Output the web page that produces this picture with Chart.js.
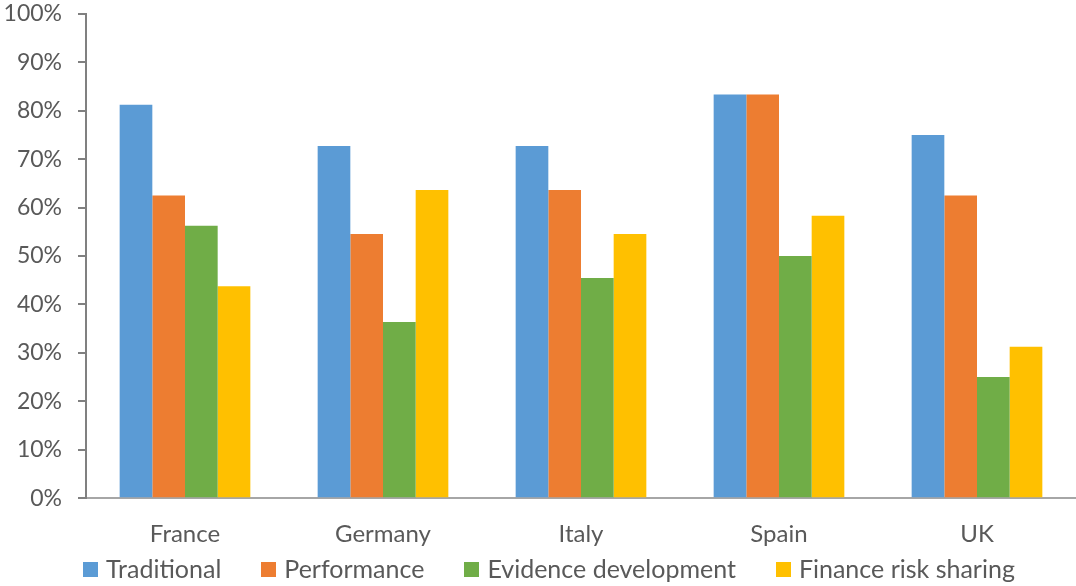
<!DOCTYPE html>
<html>
<head>
<meta charset="utf-8">
<script src="https://cdn.jsdelivr.net/npm/chart.js@4"></script>
<style>
  html, body { margin: 0; padding: 0; background: #ffffff; overflow: hidden; width: 1076px; height: 586px; }
  #wrap { width: 1076px; height: 602px; position: absolute; left: 0; top: -16px; }
</style>
</head>
<body>
<div id="wrap"><canvas id="c"></canvas></div>
<script>
const categories = ["France", "Germany", "Italy", "Spain", "UK"];
const seriesNames = ["Traditional", "Performance", "Evidence development", "Finance risk sharing"];
const traditional = [81.25, 72.73, 72.73, 83.33, 75.0];
const performance = [62.5, 54.55, 63.64, 83.33, 62.5];
const evidence = [56.25, 36.36, 45.45, 50.0, 25.0];
const finance = [43.75, 63.64, 54.55, 58.33, 31.25];
const yTicks = [0, 10, 20, 30, 40, 50, 60, 70, 80, 90, 100];

const colors = ["#5b9bd5", "#ed7d31", "#70ad47", "#ffc000"];
const seriesValues = [traditional, performance, evidence, finance];

const FONT = "Lato, 'Open Sans', sans-serif";

// Legend drawn in a row below the category labels, with wider item spacing
const bottomLegend = {
  id: "bottomLegend",
  afterDraw(chart) {
    const ctx = chart.ctx;
    const items = chart.data.datasets.map(ds => ({ text: ds.label, color: ds.backgroundColor }));
    ctx.save();
    ctx.font = "25px " + FONT;
    ctx.textBaseline = "middle";
    ctx.textAlign = "left";
    const box = 15, textGap = 8, itemGap = 40;
    const widths = items.map(it => box + textGap + ctx.measureText(it.text).width);
    const total = widths.reduce((a, b) => a + b, 0) + itemGap * (items.length - 1);
    const cx = 549;
    let x = cx - total / 2;
    const y = chart.height - 17;
    items.forEach((it, i) => {
      ctx.fillStyle = it.color;
      ctx.fillRect(Math.round(x), Math.round(y - box / 2), box, box);
      ctx.fillStyle = "#595959";
      ctx.fillText(it.text, x + box + textGap, y + 1);
      x += widths[i] + itemGap;
    });
    ctx.restore();
  }
};

new Chart(document.getElementById("c"), {
  type: "bar",
  data: {
    labels: categories,
    datasets: seriesNames.map((name, i) => ({
      label: name,
      data: seriesValues[i],
      backgroundColor: colors[i],
      borderWidth: 0,
      categoryPercentage: 0.66,
      barPercentage: 1.0
    }))
  },
  plugins: [bottomLegend],
  options: {
    responsive: true,
    maintainAspectRatio: false,
    animation: false,
    layout: { padding: { top: 0, right: 0, left: 0, bottom: 23 } },
    plugins: {
      tooltip: { enabled: false },
      legend: { display: false }
    },
    scales: {
      x: {
        grid: { display: false },
        border: { display: true, color: "#a6a6a6", width: 2 },
        ticks: { color: "#595959", font: { family: FONT, size: 24 }, padding: 14 }
      },
      y: {
        min: 0,
        max: 100,
        afterBuildTicks: (axis) => { axis.ticks = yTicks.map(v => ({ value: v })); },
        afterFit: (axis) => { axis.width = 86; },
        grid: { display: true, drawOnChartArea: false, drawTicks: true, tickLength: 8, color: "#808080", lineWidth: 2 },
        border: { display: true, color: "#808080", width: 2 },
        ticks: {
          color: "#595959",
          font: { family: FONT, size: 23 },
          padding: 16,
          callback: (v) => v + "%"
        }
      }
    }
  }
});
</script>
</body>
</html>
